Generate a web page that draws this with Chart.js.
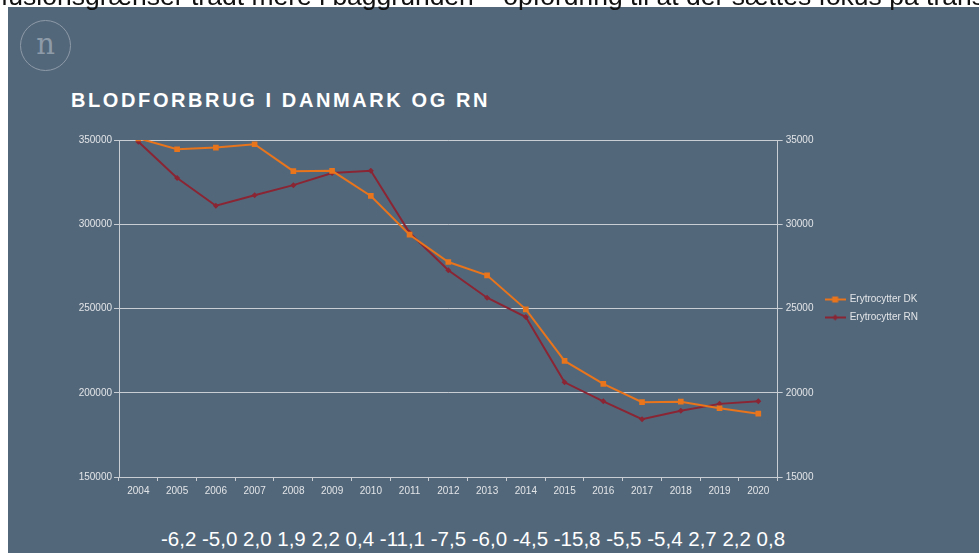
<!DOCTYPE html>
<html>
<head>
<meta charset="utf-8">
<script src="https://cdn.jsdelivr.net/npm/chart.js@4.4.1/dist/chart.umd.min.js"></script>
<style>
    body { margin: 0; background: #fff; width: 979px; height: 553px; overflow: hidden; position: relative; font-family: "Liberation Sans", Arial, sans-serif; }
    .top-text { position: absolute; left: 1px; top: -17px; font-size: 26.5px; line-height: 26px; color: #111; white-space: nowrap; z-index: 3; }
    .slide { position: absolute; left: 8px; top: 7px; width: 971px; height: 546px; background: #53677a; }
    .logo { position: absolute; left: 20px; top: 20px; width: 49px; height: 49px; border: 1.5px solid #8d9aa8; border-radius: 50%; color: #8d9aa8; font-family: "DejaVu Serif", serif; font-size: 29px; line-height: 46px; text-align: center; }
    .title { position: absolute; left: 71px; top: 89px; font-size: 20px; font-weight: bold; letter-spacing: 2.6px; color: #fff; white-space: nowrap; }
    .changes { position: absolute; left: 161px; top: 527px; font-size: 20.5px; color: #fff; white-space: nowrap; }
    #chart { position: absolute; left: 0; top: 0; z-index: 2; }
</style>
</head>
<body>
<div class="slide"></div>
<div class="top-text">fusionsgrænser trådt mere i baggrunden – opfordring til at der sættes fokus på transfusion</div>
<div class="logo">n</div>
<div class="title">BLODFORBRUG I DANMARK OG RN</div>
<div class="changes" id="changes"></div>
<canvas id="chart" width="979" height="553"></canvas>
<script>
const years = ["2004", "2005", "2006", "2007", "2008", "2009", "2010", "2011", "2012", "2013", "2014", "2015", "2016", "2017", "2018", "2019", "2020"];
const dkValues = [351000, 344500, 345500, 347500, 331500, 331700, 316800, 293800, 277600, 269700, 249500, 218900, 205300, 194400, 194700, 190800, 187600];
const rnValues = [34900, 32740, 31100, 31720, 32320, 33040, 33170, 29490, 27270, 25640, 24490, 20620, 19490, 18430, 18930, 19340, 19500];
const rnChange = [-6.2, -5.0, 2.0, 1.9, 2.2, 0.4, -11.1, -7.5, -6.0, -4.5, -15.8, -5.5, -5.4, 2.7, 2.2, 0.8];
const leftTicks = [150000, 200000, 250000, 300000, 350000];
const rightTicks = [15000, 20000, 25000, 30000, 35000];

const dkColor = "#e8741c";
const rnColor = "#8a2534";
const lineGrey = "#c9ced4";
const textGrey = "#e2e5e8";

document.getElementById("changes").textContent = rnChange.map(v => v.toFixed(1).replace(".", ",")).join(" ");

// legend symbol: short line with a marker in the middle
function legendIcon(color, marker) {
    let c = document.createElement("canvas");
    c.width = 21;
    c.height = 8;
    let g = c.getContext("2d");
    g.strokeStyle = color;
    g.fillStyle = color;
    g.lineWidth = 2;
    g.beginPath();
    g.moveTo(0, 4);
    g.lineTo(21, 4);
    g.stroke();
    g.beginPath();
    if (marker === "rect") {
        g.rect(7.5, 1, 6, 6);
    } else {
        g.moveTo(10.5, 1); g.lineTo(13.5, 4); g.lineTo(10.5, 7); g.lineTo(7.5, 4);
    }
    g.fill();
    return c;
}

const dkIcon = legendIcon(dkColor, "rect");
const rnIcon = legendIcon(rnColor, "diamond");

// keep the legend centred on the plot area, not on plot + x axis
const legendCenter = {
    id: "legendCenter",
    afterLayout(chart) {
        chart.legend.top = chart.chartArea.top;
        chart.legend.bottom = chart.chartArea.bottom;
    }
};

let ctx = document.getElementById("chart").getContext("2d");

let chart = new Chart(ctx, {
    type: "line",
    data: {
        labels: years,
        datasets: [{
            label: "Erytrocytter DK",
            data: dkValues,
            yAxisID: "y",
            borderColor: dkColor,
            backgroundColor: dkColor,
            borderWidth: 2,
            pointStyle: "rect",
            pointRadius: 4,
            pointBorderWidth: 0,
            tension: 0
        }, {
            label: "Erytrocytter RN",
            data: rnValues,
            yAxisID: "y1",
            borderColor: rnColor,
            backgroundColor: rnColor,
            borderWidth: 2,
            pointStyle: "rectRot",
            pointRadius: 3,
            pointBorderWidth: 0,
            tension: 0
        }]
    },
    options: {
        responsive: false,
        animation: false,
        layout: {
            padding: { left: 0, right: 51, top: 140, bottom: 56 }
        },
        plugins: {
            tooltip: { enabled: false },
            legend: {
                position: "right",
                labels: {
                    color: textGrey,
                    font: { family: "Liberation Sans", size: 10 },
                    usePointStyle: true,
                    pointStyleWidth: 19,
                    padding: 8,
                    generateLabels: chart => chart.data.datasets.map((ds, i) => ({
                        text: ds.label,
                        pointStyle: i === 0 ? dkIcon : rnIcon,
                        fontColor: textGrey,
                        lineWidth: 0,
                        datasetIndex: i
                    }))
                }
            }
        },
        scales: {
            x: {
                offset: true,
                grid: { offset: true, drawOnChartArea: false, color: lineGrey, tickLength: 4 },
                border: { color: lineGrey },
                ticks: { color: textGrey, font: { family: "Liberation Sans", size: 10 }, padding: 4, maxRotation: 0, autoSkip: false },
                afterFit: scale => { scale.height = 20; }
            },
            y: {
                position: "left",
                min: leftTicks[0],
                max: leftTicks[leftTicks.length - 1],
                afterBuildTicks: scale => { scale.ticks = leftTicks.map(v => ({ value: v })); },
                grid: { color: lineGrey, tickLength: 5 },
                border: { color: lineGrey },
                ticks: { color: textGrey, font: { family: "Liberation Sans", size: 10 }, padding: 2, callback: v => String(v) },
                afterFit: scale => { scale.width = 119; }
            },
            y1: {
                position: "right",
                min: rightTicks[0],
                max: rightTicks[rightTicks.length - 1],
                afterBuildTicks: scale => { scale.ticks = rightTicks.map(v => ({ value: v })); },
                grid: { drawOnChartArea: false, color: lineGrey, tickLength: 5 },
                border: { color: lineGrey },
                ticks: { color: textGrey, font: { family: "Liberation Sans", size: 10 }, padding: 3, callback: v => String(v) },
                afterFit: scale => { scale.width = 40; }
            }
        }
    },
    plugins: [legendCenter]
});
</script>
</body>
</html>
